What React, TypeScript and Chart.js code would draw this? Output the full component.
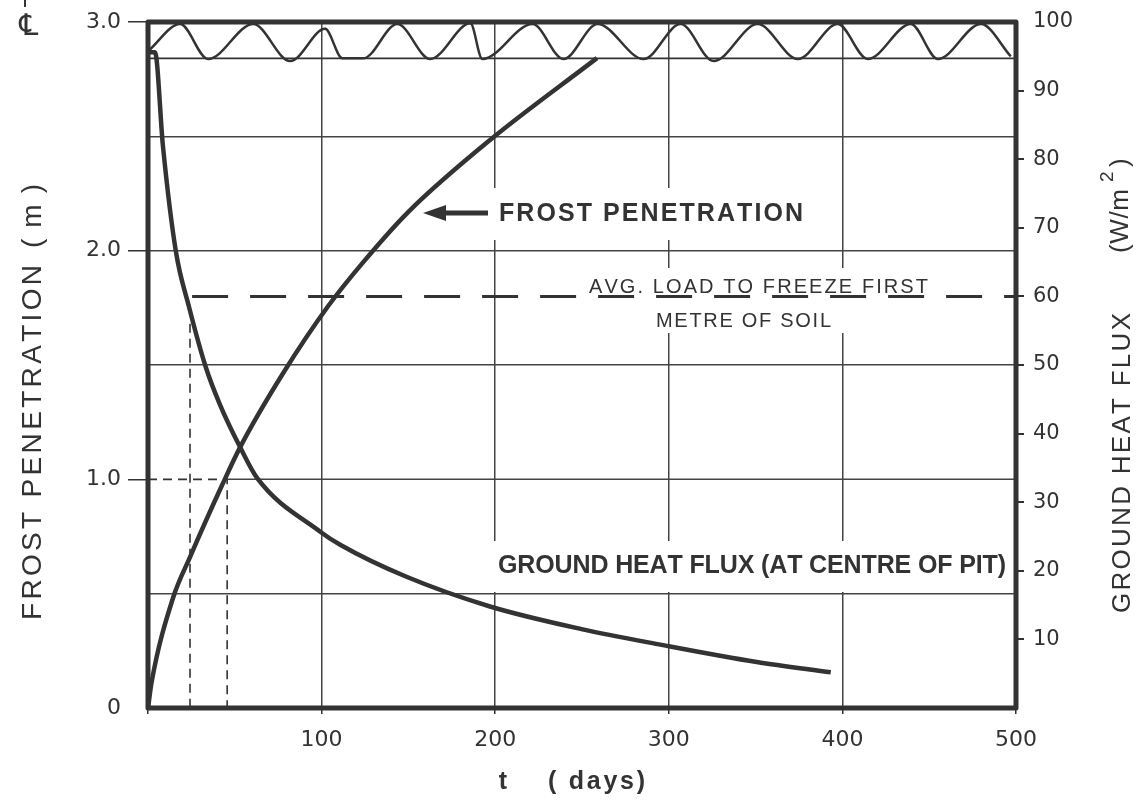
import React, { useEffect, useRef } from "react";
import { Chart, registerables } from "chart.js";
Chart.register(...registerables);

// ---------- data ----------
const frostDays = [0, 2.1, 14.4, 24.2, 42.7, 53.1, 77.9, 103.8, 124, 150, 197, 258.6];
const frostDepth = [0, 0.114, 0.481, 0.66, 0.975, 1.141, 1.465, 1.758, 1.95, 2.17, 2.484, 2.842];

const fluxDays = [0.8, 4.0, 8.65, 16.1, 23.6, 33.4, 41.5, 53.1, 62.9, 99.2, 110.7, 148.2, 197, 249.7, 295.8, 350.6, 393.3];
const fluxValues = [95.6, 95.6, 81.8, 66.5, 58.5, 49.6, 44.2, 38.0, 33.5, 25.7, 23.8, 19.2, 14.8, 11.5, 9.2, 6.7, 5.2];

const waveDays = [0.3, 18.5, 34.6, 60.6, 81.9, 102, 112, 124, 143.6, 162.6, 185.7, 192.6, 221.5, 239.3, 259, 285.5, 306.8, 325.8, 351.2, 374.3, 397.3, 414.6, 439.4, 455, 479.8, 497];
const waveValues = [95.8, 99.7, 94.6, 99.7, 94.3, 99.0, 94.7, 94.7, 99.7, 94.6, 99.8, 94.6, 99.7, 94.6, 99.7, 94.6, 99.7, 94.3, 99.7, 94.6, 99.7, 94.6, 99.7, 94.6, 99.7, 95.0];

const waveBase = 94.7; // W/m2, lower edge of the wave strip
const avgLoad = 60; // W/m2
const avgLoadStart = 25.4; // days
const oneMetreDay = 45.6; // days to 1.0 m
const dashA = { day: 24.2, top: 1.68 };

const xTicks = [0, 100, 200, 300, 400, 500];
const leftLabels = ["0", "1.0", "2.0", "3.0"];

const INK = "#333";

const pts = (xs: number[], ys: number[]) => xs.map((x, i) => ({ x, y: ys[i] }));

function spaced(ctx: CanvasRenderingContext2D, text: string, x: number, y: number, width: number) {
  const chars = Array.from(text);
  const ws = chars.map((c) => ctx.measureText(c).width);
  const total = ws.reduce((a, b) => a + b, 0);
  const gap = chars.length > 1 ? (width - total) / (chars.length - 1) : 0;
  let cx = x;
  chars.forEach((c, i) => {
    ctx.fillText(c, cx, y);
    cx += ws[i] + gap;
  });
}

const decor = {
  id: "decor",
  beforeDatasetsDraw(chart: any) {
    const ctx = chart.ctx as CanvasRenderingContext2D;
    ctx.save();
    ctx.fillStyle = "#fff";
    ctx.fillRect(493, 188, 317, 52);
    ctx.fillRect(580, 268, 355, 65);
    ctx.fillRect(494, 541, 516, 51);
    ctx.restore();
  },
  afterDatasetsDraw(chart: any) {
    const ctx = chart.ctx as CanvasRenderingContext2D;
    const a = chart.chartArea;
    ctx.save();
    // frame
    ctx.strokeStyle = INK;
    ctx.lineWidth = 5;
    ctx.lineJoin = "round";
    ctx.strokeRect(a.left, a.top, a.right - a.left, a.bottom - a.top);

    ctx.fillStyle = INK;
    ctx.textBaseline = "middle";
    ctx.textAlign = "left";

    // annotations
    ctx.font = "bold 25px 'Liberation Sans'";
    spaced(ctx, "FROST PENETRATION", 499, 214, 304);
    // arrow
    ctx.lineWidth = 5;
    ctx.beginPath();
    ctx.moveTo(488, 213);
    ctx.lineTo(440, 213);
    ctx.stroke();
    ctx.beginPath();
    ctx.moveTo(423, 213);
    ctx.lineTo(446, 205);
    ctx.lineTo(446, 221);
    ctx.closePath();
    ctx.fill();

    ctx.font = "20px 'Liberation Sans'";
    spaced(ctx, "AVG. LOAD TO FREEZE FIRST", 589, 287, 339);
    spaced(ctx, "METRE OF SOIL", 656, 321, 175);

    ctx.font = "bold 25px 'Liberation Sans'";
    spaced(ctx, "GROUND HEAT FLUX (AT CENTRE OF PIT)", 498, 566, 508);

    // x title
    ctx.font = "bold 25px 'Liberation Sans'";
    ctx.textAlign = "center";
    ctx.fillText("t", 503, 782);
    ctx.textAlign = "left";
    spaced(ctx, "( days)", 548, 782, 97);

    // left title (rotated)
    ctx.font = "28px 'Liberation Sans'";
    ctx.save();
    ctx.translate(33, 620);
    ctx.rotate(-Math.PI / 2);
    spaced(ctx, "FROST PENETRATION", 0, 0, 355);
    spaced(ctx, "( m )", 372, 0, 64);
    ctx.restore();

    // right title (rotated)
    ctx.font = "26px 'Liberation Sans'";
    ctx.save();
    ctx.translate(1123, 613);
    ctx.rotate(-Math.PI / 2);
    spaced(ctx, "GROUND HEAT FLUX", 0, 0, 300);
    ctx.restore();
    ctx.save();
    ctx.translate(1121, 253);
    ctx.rotate(-Math.PI / 2);
    ctx.font = "26px 'Liberation Sans'";
    spaced(ctx, "(W/m", 0, 0, 64);
    ctx.font = "19px 'Liberation Sans'";
    ctx.fillText("2", 71, -13);
    ctx.font = "26px 'Liberation Sans'";
    ctx.fillText(")", 86, 0);
    ctx.restore();

    // centre-line symbol
    ctx.font = "30px 'DejaVu Sans'";
    ctx.textAlign = "center";
    ctx.fillText("\u2104", 29, 27);
    ctx.lineWidth = 2;
    ctx.beginPath();
    ctx.moveTo(25, 0);
    ctx.lineTo(25, 7);
    ctx.stroke();
    ctx.restore();
  },
};

export default function App() {
  const ref = useRef<HTMLCanvasElement>(null);
  useEffect(() => {
    document.body.style.margin = "0";
    const near = (v: number, t: number) => Math.abs(v - t) < 1e-6;
    const chart = new Chart(ref.current!, {
      type: "line",
      data: {
        datasets: [
          {
            data: pts(frostDays, frostDepth),
            yAxisID: "y",
            borderColor: INK,
            borderWidth: 4.5,
            pointRadius: 0,
            cubicInterpolationMode: "monotone",
          },
          {
            data: pts(fluxDays, fluxValues),
            yAxisID: "y1",
            borderColor: INK,
            borderWidth: 4.5,
            pointRadius: 0,
            cubicInterpolationMode: "monotone",
          },
          {
            data: pts(waveDays, waveValues),
            yAxisID: "y1",
            borderColor: INK,
            borderWidth: 2.5,
            pointRadius: 0,
            cubicInterpolationMode: "monotone",
          },
          {
            data: [{ x: 0, y: waveBase }, { x: 500, y: waveBase }],
            yAxisID: "y1",
            borderColor: INK,
            borderWidth: 1.8,
            pointRadius: 0,
          },
          {
            data: [{ x: avgLoadStart, y: avgLoad }, { x: 500, y: avgLoad }],
            yAxisID: "y1",
            borderColor: INK,
            borderWidth: 3,
            borderDash: [36, 22],
            pointRadius: 0,
          },
          {
            data: [{ x: oneMetreDay - 2, y: 1 }, { x: 500, y: 1 }],
            yAxisID: "y",
            borderColor: "#444",
            borderWidth: 1.5,
            pointRadius: 0,
          },
          {
            data: [{ x: 0, y: 1 }, { x: oneMetreDay, y: 1 }, { x: oneMetreDay, y: 0 }],
            yAxisID: "y",
            borderColor: INK,
            borderWidth: 1.6,
            borderDash: [9, 6],
            pointRadius: 0,
          },
          {
            data: [{ x: dashA.day, y: dashA.top }, { x: dashA.day, y: 0 }],
            yAxisID: "y",
            borderColor: INK,
            borderWidth: 1.6,
            borderDash: [9, 6],
            pointRadius: 0,
          },
        ],
      },
      options: {
        animation: false,
        responsive: false,
        layout: { padding: { top: 22, left: 0, right: 0, bottom: 0 } },
        plugins: { legend: { display: false }, tooltip: { enabled: false } },
        scales: {
          x: {
            type: "linear",
            min: 0,
            max: 500,
            afterFit: (s: any) => {
              s.height = 92;
            },
            afterBuildTicks: (s: any) => {
              s.ticks = xTicks.map((v) => ({ value: v }));
            },
            border: { display: false },
            grid: {
              color: (c: any) => (c.tick && (c.tick.value === 0 || c.tick.value === 500) ? "transparent" : "#444"),
              lineWidth: 1.5,
              tickLength: 6,
              tickColor: INK,
            },
            ticks: {
              padding: 13,
              color: INK,
              font: { family: "'DejaVu Sans'", size: 22 },
              callback: (v: any) => (v === 0 ? "" : String(v)),
            },
          },
          y: {
            type: "linear",
            position: "left",
            min: 0,
            max: 3,
            afterFit: (s: any) => {
              s.width = 148;
            },
            border: { display: false },
            grid: {
              color: (c: any) => {
                const v = c.tick ? c.tick.value : -1;
                return near(v, 0) || near(v, 1) || near(v, 3) ? "transparent" : "#444";
              },
              lineWidth: 1.5,
              tickLength: 20,
              tickColor: (c: any) => {
                const v = c.tick ? c.tick.value : -1;
                return near(v, 1) || near(v, 2) || near(v, 3) ? INK : "transparent";
              },
            },
            ticks: {
              stepSize: 0.5,
              padding: 7,
              color: INK,
              font: { family: "'DejaVu Sans'", size: 22 },
              callback: (v: any) => {
                const n = Number(v);
                if (Math.abs(n - Math.round(n)) > 1e-6) return "";
                return leftLabels[Math.round(n)];
              },
            },
          },
          y1: {
            type: "linear",
            position: "right",
            min: 0,
            max: 100,
            afterFit: (s: any) => {
              s.width = 123;
            },
            border: { display: false },
            grid: {
              drawOnChartArea: false,
              lineWidth: 2,
              tickLength: 8,
              tickColor: (c: any) => (c.tick && (c.tick.value === 0 || c.tick.value === 100) ? "transparent" : INK),
            },
            ticks: {
              stepSize: 10,
              padding: 9,
              color: INK,
              font: { family: "'DejaVu Sans'", size: 21 },
              callback: (v: any) => (v === 0 ? "" : String(v)),
            },
          },
        },
      },
      plugins: [decor],
    } as any);
    return () => chart.destroy();
  }, []);
  return (
    <div style={{ width: 1139, height: 800, background: "#fff" }}>
      <canvas ref={ref} width={1139} height={800} style={{ display: "block", width: 1139, height: 800 }} />
    </div>
  );
}
